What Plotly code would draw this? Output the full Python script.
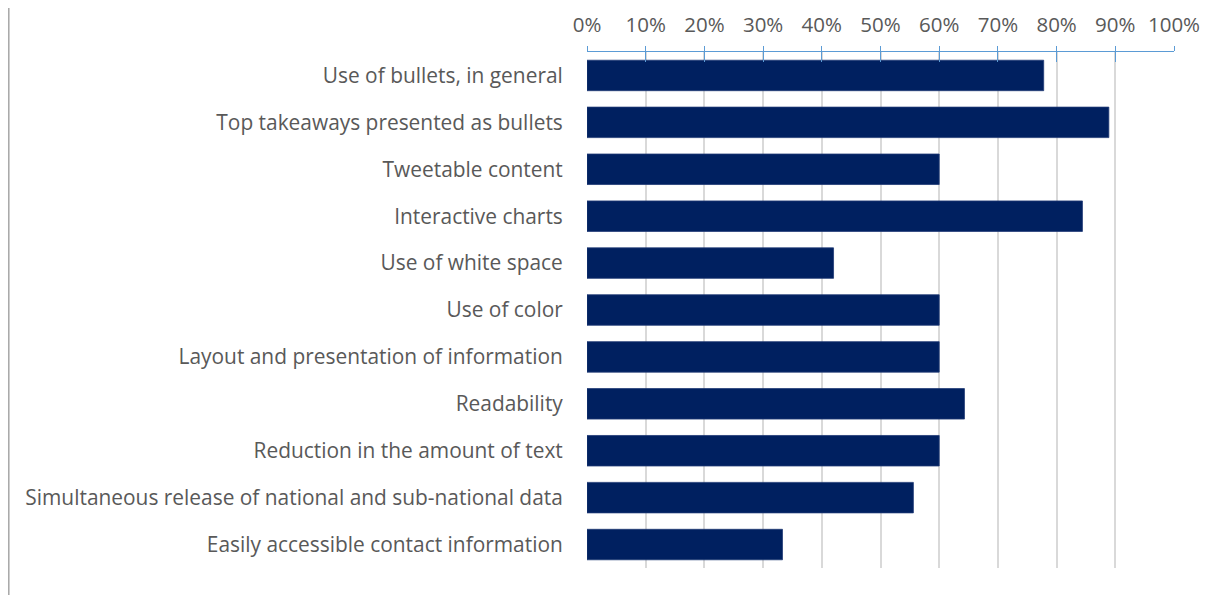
import plotly.graph_objects as go

categories = [
    "Use of bullets, in general",
    "Top takeaways presented as bullets",
    "Tweetable content",
    "Interactive charts",
    "Use of white space",
    "Use of color",
    "Layout and presentation of information",
    "Readability",
    "Reduction in the amount of text",
    "Simultaneous release of national and sub-national data",
    "Easily accessible contact information",
]
values = [0.778, 0.889, 0.600, 0.844, 0.420, 0.600, 0.600, 0.643, 0.600, 0.556, 0.333]
tick_values = [i / 10 for i in range(11)]
tick_labels = [f"{i * 10}%" for i in range(11)]

FONT = "Open Sans"
TXT = "#595959"
FS_X = 20.5
FS_Y = 20.9

ML, MR, MT, MB = 579, 58, 44, 35
PLOT_W = 1224 - ML - MR

fig = go.Figure()
fig.add_trace(go.Bar(
    y=categories,
    x=values,
    orientation="h",
    marker=dict(color="#002060", line=dict(color="#1F3A75", width=0.8)),
    hoverinfo="x+y",
))
# invisible trace on the overlay axis so its inside ticks are rendered
fig.add_trace(go.Scatter(x=[0, 1], y=[categories[0], categories[0]], xaxis="x2",
                         mode="markers", marker=dict(opacity=0), hoverinfo="skip",
                         showlegend=False))

fig.update_layout(
    width=1224, height=595,
    margin=dict(l=ML, r=MR, t=MT, b=MB, autoexpand=False),
    plot_bgcolor="white", paper_bgcolor="white",
    bargap=0.35,
    showlegend=False,
    font=dict(family=FONT, color=TXT, size=FS_Y),
    xaxis=dict(
        range=[0, 1], side="top",
        tickvals=tick_values, ticktext=tick_labels,
        showgrid=True, gridcolor="#D9D9D9", gridwidth=1.5,
        showline=True, linecolor="#5B9BD5", linewidth=1.2,
        ticks="outside", ticklen=5, tickcolor="#5B9BD5", tickwidth=1.2,
        ticklabelstandoff=6,
        tickfont=dict(family=FONT, color=TXT, size=FS_X),
        zeroline=False, fixedrange=True, automargin=False,
    ),
    xaxis2=dict(
        range=[0, 1], overlaying="x", side="top",
        tickvals=tick_values, showticklabels=False,
        ticks="inside", ticklen=10, tickcolor="#5B9BD5", tickwidth=1.2,
        showgrid=False, showline=False, zeroline=False,
    ),
    yaxis=dict(
        categoryorder="array", categoryarray=categories,
        range=[len(categories) - 0.5, -0.5],
        showgrid=False, showline=False, zeroline=False,
        ticks="outside", ticklen=14, tickcolor="rgba(0,0,0,0)",
        ticklabelstandoff=5, automargin=False,
        tickfont=dict(family=FONT, color=TXT, size=FS_Y),
    ),
    shapes=[dict(type="line", xref="paper", yref="paper",
                 x0=(0.8 - ML) / PLOT_W, x1=(0.8 - ML) / PLOT_W,
                 y0=-0.1, y1=1.2,
                 line=dict(color="#A6A6A6", width=1.5))],
)

fig.write_html("out.html")
